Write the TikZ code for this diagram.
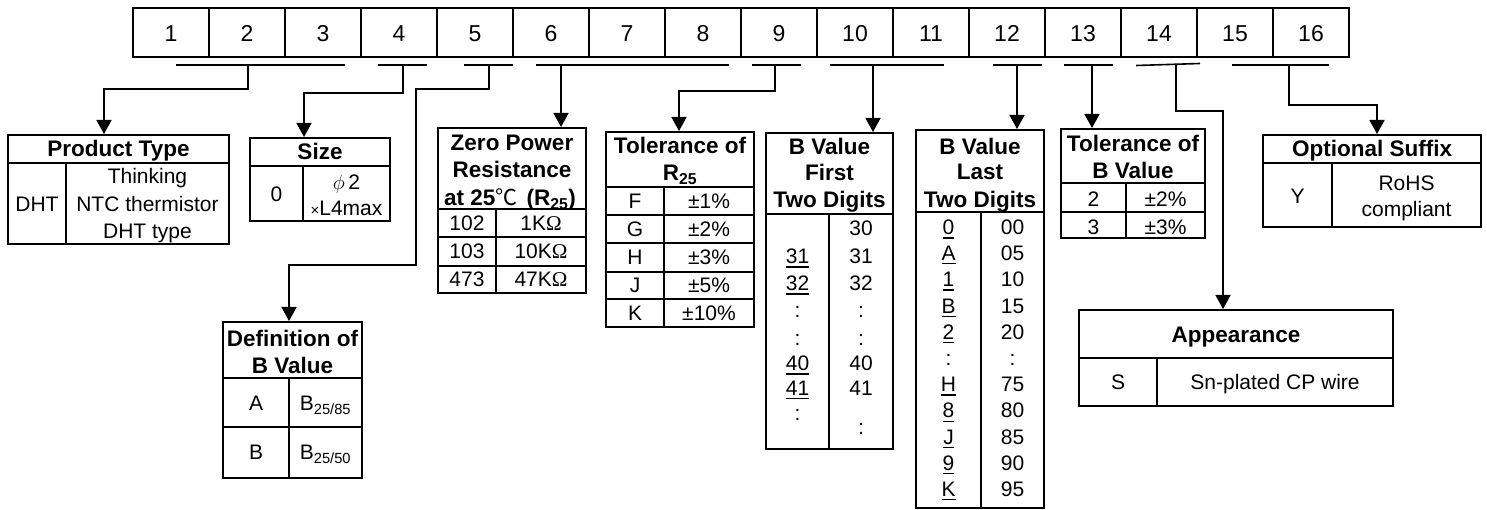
\documentclass[tikz,border=0pt]{standalone}
\usepackage{fontspec}
\setmainfont{Liberation Sans}
\newfontfamily\cjkf{Noto Sans CJK SC}
\newfontfamily\serf{Liberation Serif}
\usetikzlibrary{arrows.meta,fit}
\newcommand\uln[1]{\vtop{\hbox{#1}\kern2.5pt\hrule height 1.3pt}}
\newcommand\ohm{{\serf Ω}}
\begin{document}
\begin{tikzpicture}[x=1pt,y=-1pt,
  tbl/.style={draw,line width=2pt,inner sep=0pt,fit={#1}},
  ln/.style={line width=2pt},
  bar/.style={line width=1.6pt},
  conn/.style={line width=1.6pt,-{Triangle[width=15pt,length=14pt]}},
  tx/.style={font=\fontsize{21}{25}\selectfont,inner sep=0pt,text height=15pt,text depth=0pt},
  hd/.style={font=\bfseries\fontsize{22.5}{27}\selectfont,inner sep=0pt,text height=16pt,text depth=0pt},
  dg/.style={font=\fontsize{23}{27}\selectfont,inner sep=0pt,text height=16.5pt,text depth=0pt}]
\useasboundingbox (0,0) rectangle (1487,510);
\fill[white] (0,0) rectangle (1487,510);

% ---- top row
\node[tbl={(133,8)(1349,57)}] (top) {};
\foreach \i in {1,...,15} \draw[ln] ({133+76*\i},8) -- ({133+76*\i},57);
\foreach \i in {1,...,16} \node[dg] (d\i) at ({133+76*\i-38},33) {\i};

% ---- Product Type
\node[tbl={(8,135)(229,244)}] (pt) {};
\draw[ln] (8,163) -- (229,163) (66,163) -- (66,244);
\node[hd] (pth) at (118.5,149) {Product Type};
\node[tx] (pta) at (37,204) {DHT};
\node[tx] (ptb) at (147.5,176) {Thinking};
\node[tx] (ptc) at (147.5,204) {NTC thermistor};
\node[tx] (ptd) at (147.5,231) {DHT type};

% ---- Size
\node[tbl={(250,138)(390,221)}] (sz) {};
\draw[ln] (250,166) -- (390,166) (303,166) -- (303,221);
\node[hd] (szh) at (320,152) {Size};
\node[tx] (sza) at (276.5,194) {0};
\node[tx] (szb) at (346.5,182) {$\phi$\,2};
\node[tx] (szc) at (346.5,208) {{\fontsize{15}{15}\selectfont ×}L4max};

% ---- Definition of B Value
\node[tbl={(223,322)(362,478)}] (df) {};
\draw[ln] (223,378) -- (362,378) (223,427) -- (362,427) (289,378) -- (289,478);
\node[hd] (dfh1) at (292.5,338) {Definition of};
\node[hd] (dfh2) at (292.5,365) {B Value};
\node[tx] (dfa) at (256,403) {A};
\node[tx] (dfb) at (325.5,403) {B\textsubscript{25/85}};
\node[tx] (dfc) at (256,452) {B};
\node[tx] (dfd) at (325.5,452) {B\textsubscript{25/50}};

% ---- Zero Power Resistance
\node[tbl={(438,128)(586,293)}] (zp) {};
\draw[ln] (438,209) -- (586,209) (438,237) -- (586,237) (438,266) -- (586,266) (496,209) -- (496,293);
\node[hd] (zph1) at (512,143) {Zero Power};
\node[hd] (zph2) at (512,170) {Resistance};
\node[hd] (zph3) at (510,198) {at 25{\cjkf\mdseries\fontsize{22}{22}\selectfont ℃}\hspace{9pt}(R\textsubscript{25})};
\node[tx] (zpa) at (467,223) {102};
\node[tx] (zpb) at (541,223) {1K\ohm};
\node[tx] (zpc) at (467,251) {103};
\node[tx] (zpd) at (541,251) {10K\ohm};
\node[tx] (zpe) at (467,279) {473};
\node[tx] (zpf) at (541,279) {47K\ohm};

% ---- Tolerance of R25
\node[tbl={(606,132)(754,327)}] (tr) {};
\draw[ln] (606,187) -- (754,187) (606,215) -- (754,215) (606,243) -- (754,243)
          (606,272) -- (754,272) (606,299) -- (754,299) (664,187) -- (664,327);
\node[hd] (trh1) at (680,146) {Tolerance of};
\node[hd] (trh2) at (680,173) {R\textsubscript{25}};
\node[tx] (tra) at (635,201) {F};   \node[tx] (trb) at (709,201) {±1\%};
\node[tx] (trc) at (635,229) {G};   \node[tx] (trd) at (709,229) {±2\%};
\node[tx] (tre) at (635,257.5) {H}; \node[tx] (trf) at (709,257.5) {±3\%};
\node[tx] (trg) at (635,285.5) {J}; \node[tx] (trh) at (709,285.5) {±5\%};
\node[tx] (tri) at (635,313) {K};   \node[tx] (trj) at (709,313) {±10\%};

% ---- B Value First Two Digits
\node[tbl={(766,133)(893,449)}] (bf) {};
\draw[ln] (766,214) -- (893,214) (829,214) -- (829,449);
\node[hd] (bfh1) at (829.5,147) {B Value};
\node[hd] (bfh2) at (829.5,173) {First};
\node[hd] (bfh3) at (829.5,200) {Two Digits};
\node[tx] (bfr1) at (861,228) {30};
\node[tx] (bfl2) at (797.5,256) {\uln{31}}; \node[tx] (bfr2) at (861,256) {31};
\node[tx] (bfl3) at (797.5,283) {\uln{32}}; \node[tx] (bfr3) at (861,283) {32};
\node[tx] (bfl4) at (797.5,310) {:};       \node[tx] (bfr4) at (861,310) {:};
\node[tx] (bfl5) at (797.5,338) {:};       \node[tx] (bfr5) at (861,338) {:};
\node[tx] (bfl6) at (797.5,363) {\uln{40}}; \node[tx] (bfr6) at (861,363) {40};
\node[tx] (bfl7) at (797.5,388) {\uln{41}}; \node[tx] (bfr7) at (861,388) {41};
\node[tx] (bfl8) at (797.5,413) {:};
\node[tx] (bfr8) at (861,427) {:};

% ---- B Value Last Two Digits
\node[tbl={(916,130)(1044,508)}] (bl) {};
\draw[ln] (916,212) -- (1044,212) (981,212) -- (981,508);
\node[hd] (blh1) at (980,147) {B Value};
\node[hd] (blh2) at (980,172) {Last};
\node[hd] (blh3) at (980,200) {Two Digits};
\foreach \l/\r [count=\k from 0] in {\uln{0}/00,\uln{A}/05,\uln{1}/10,\uln{B}/15,\uln{2}/20,:/:,\uln{H}/75,\uln{8}/80,\uln{J}/85,\uln{9}/90,\uln{K}/95}{
  \node[tx] (bll\k) at (948.5,{227+26.2*\k}) {\l};
  \node[tx] (blr\k) at (1012.5,{227+26.2*\k}) {\r};
}

% ---- Tolerance of B Value
\node[tbl={(1061,129)(1205,238)}] (tb) {};
\draw[ln] (1061,183) -- (1205,183) (1061,212) -- (1205,212) (1126,183) -- (1126,238);
\node[hd] (tbh1) at (1133,144) {Tolerance of};
\node[hd] (tbh2) at (1133,171) {B Value};
\node[tx] (tba) at (1093.5,199) {2}; \node[tx] (tbb) at (1165.5,199) {±2\%};
\node[tx] (tbc) at (1093.5,227) {3}; \node[tx] (tbd) at (1165.5,227) {±3\%};

% ---- Optional Suffix
\node[tbl={(1263,135)(1481,227)}] (os) {};
\draw[ln] (1263,163) -- (1481,163) (1332,163) -- (1332,227);
\node[hd] (osh) at (1372,149) {Optional Suffix};
\node[tx] (osa) at (1297.5,196) {Y};
\node[tx] (osb) at (1406.5,183) {RoHS};
\node[tx] (osc) at (1406.5,209) {compliant};

% ---- Appearance
\node[tbl={(1079,310)(1393,406)}] (ap) {};
\draw[ln] (1079,358) -- (1393,358) (1157,358) -- (1157,406);
\node[hd] (aph) at (1236,334) {Appearance};
\node[tx] (apa) at (1118,382) {S};
\node[tx] (apb) at (1275,382) {Sn-plated CP wire};

% ---- bars
\draw[bar] (176,65) -- (345,65);
\draw[bar] (378,65) -- (427,65);
\draw[bar] (464,65) -- (513,65);
\draw[bar] (536,65) -- (729,65);
\draw[bar] (752,65) -- (801,65);
\draw[bar] (830,65) -- (944,65);
\draw[bar] (993,65) -- (1042,65);
\draw[bar] (1064,65) -- (1113,65);
\draw[bar] (1136,65.5) -- (1200,63.5);
\draw[bar] (1232,65) -- (1329,65);

% ---- connector points
\coordinate (s1) at (248,65);   \coordinate (k1) at (104,89);
\coordinate (s2) at (403,65);   \coordinate (k2) at (304,93);
\coordinate (s3) at (489,65);   \coordinate (k3a) at (416,89);
\coordinate (k3b) at (416,265); \coordinate (k3c) at (289,265);
\coordinate (s4) at (561,65);
\coordinate (s5) at (775,65);   \coordinate (k5) at (679,91);
\coordinate (s6) at (873,65);
\coordinate (s7) at (1017,65);
\coordinate (s8) at (1092,65);
\coordinate (s9) at (1176,64.5); \coordinate (k9) at (1223,111);
\coordinate (s10) at (1289,65); \coordinate (k10) at (1377,105);

% ---- connectors
\draw[conn] (s1) |- (k1) -- (k1 |- pt.north);
\draw[conn] (s2) |- (k2) -- (k2 |- sz.north);
\draw[conn] (s3) |- (k3a) -- (k3b) -- (k3c) -- (k3c |- df.north);
\draw[conn] (s4) -- (s4 |- zp.north);
\draw[conn] (s5) |- (k5) -- (k5 |- tr.north);
\draw[conn] (s6) -- (s6 |- bf.north);
\draw[conn] (s7) -- (s7 |- bl.north);
\draw[conn] (s8) -- (s8 |- tb.north);
\draw[conn] (s9) |- (k9) -- (k9 |- ap.north);
\draw[conn] (s10) |- (k10) -- (k10 |- os.north);
\end{tikzpicture}
\end{document}
